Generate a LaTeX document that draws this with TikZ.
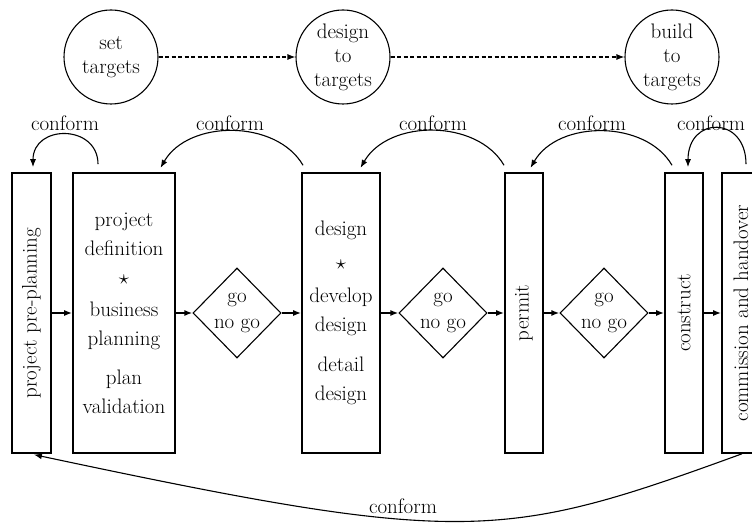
\documentclass[tikz,border=0pt]{standalone}
\usetikzlibrary{arrows.meta,shapes.geometric}

\begin{document}
\begin{tikzpicture}[x=1pt,y=1pt,
		font=\fontsize{21}{24}\selectfont,
		target/.style={draw,circle,line width=1.1pt,minimum size=94pt,inner sep=0pt,align=center},
		stagebox/.style={draw,line width=1.6pt,minimum height=280pt,inner sep=0pt,align=center,font=\fontsize{21}{29}\selectfont},
		gonogo/.style={draw,diamond,aspect=1,line width=1.1pt,minimum width=88pt,minimum height=90pt,inner sep=-4pt,align=center,font=\fontsize{21}{26}\selectfont},
		flow/.style={-{Latex[length=8pt,width=6pt]},line width=1.5pt},
		conf/.style={-{Latex[length=8pt,width=6pt]},line width=1.1pt},
		dashline/.style={-{Latex[length=8pt,width=6pt]},line width=1.1pt,dash pattern=on 4pt off 2.5pt}]
		\useasboundingbox (0,0) rectangle (752,522);

		% targets
		\node[target] (settgt) at (111,465) {set\\targets};
		\node[target] (designtgt) at (343,465) {design\\to\\targets};
		\node[target] (buildtgt) at (672,465) {build\\to\\targets};
		\draw[dashline] (settgt) -- (designtgt);
		\draw[dashline] (designtgt) -- (buildtgt);

		% stages
		\node[stagebox, minimum width=39pt] (preplan) at (31.5,209) {\rotatebox{90}{project pre-planning}};
		\node[stagebox, minimum width=102pt] (projdef) at (124,209) {project\\definition\\$\star$\\[3pt]business\\planning\\[10pt]plan\\validation};
		\node[gonogo] (gngA) at (237,209) {go\\no go};
		\node[stagebox, minimum width=78pt] (design) at (341,209) {design\\[5pt]$\star$\\[4pt]develop\\design\\[11pt]detail\\design};
		\node[gonogo] (gngB) at (443,209) {go\\no go};
		\node[stagebox, minimum width=38pt] (permit) at (524,209) {\rotatebox{90}{permit}};
		\node[gonogo] (gngC) at (604,209) {go\\no go};
		\node[stagebox, minimum width=38pt] (construct) at (684,209) {\rotatebox{90}{construct}};
		\node[stagebox, minimum width=38pt] (handover) at (741,209) {\rotatebox{90}{commission and handover}};

		\draw[flow] (preplan) -- (projdef);
		\draw[flow] (projdef) -- (gngA);
		\draw[flow] (gngA) -- (design);
		\draw[flow] (design) -- (gngB);
		\draw[flow] (gngB) -- (permit);
		\draw[flow] (permit) -- (gngC);
		\draw[flow] (gngC) -- (construct);
		\draw[flow] (construct) -- (handover);

		% conform loops
		\draw[conf,shorten <=8pt,shorten >=5pt] ([xshift=-26pt]projdef.north) to[out=90,in=90,looseness=1.9] ([xshift=1.5pt]preplan.north);
		\draw[conf,shorten <=8pt,shorten >=5pt] ([xshift=-34pt]design.north) to[out=120,in=60,looseness=1.05] ([xshift=34pt]projdef.north);
		\draw[conf,shorten <=8pt,shorten >=5pt] ([xshift=-16pt]permit.north) to[out=120,in=60,looseness=1.05] ([xshift=17pt]design.north);
		\draw[conf,shorten <=8pt,shorten >=5pt] ([xshift=-8pt]construct.north) to[out=120,in=60,looseness=1.05] ([xshift=4pt]permit.north);
		\draw[conf,shorten <=8pt,shorten >=5pt] ([xshift=5pt]handover.north) to[out=90,in=90,looseness=2.5] ([xshift=4pt]construct.north);
		\draw[conf,shorten >=4pt] ([xshift=1pt]handover.south) .. controls +(200:255) and +(-12:445) .. ([xshift=-1.5pt]preplan.south);

		\node (confA) at (65,399) {conform};
		\node (confB) at (230,399) {conform};
		\node (confC) at (433,399) {conform};
		\node (confD) at (592,399) {conform};
		\node (confE) at (711,399) {conform};
		\node (confF) at (403,16) {conform};
	\end{tikzpicture}
\end{document}
